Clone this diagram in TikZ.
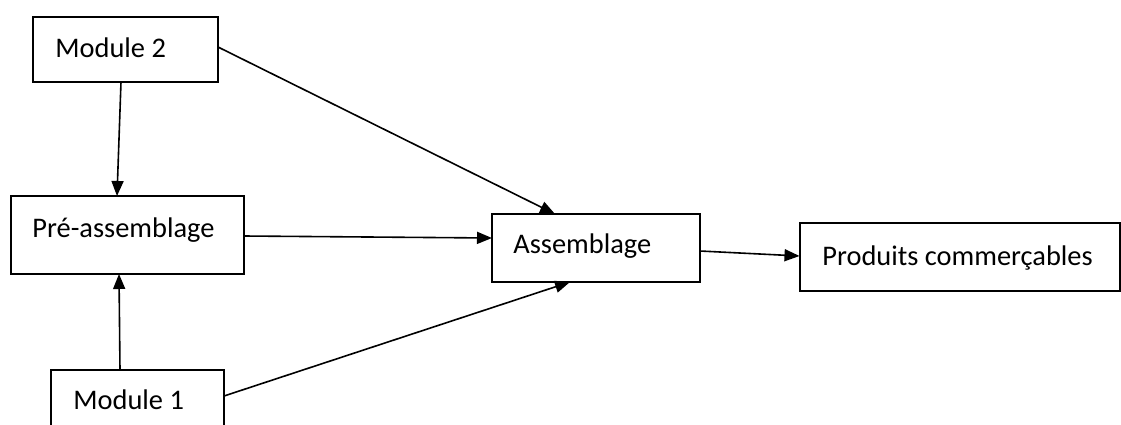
\documentclass[tikz,border=0pt]{standalone}
\usepackage{fontspec}
\setmainfont{Carlito}
\usetikzlibrary{arrows.meta,calc}
\tikzset{
  box/.style={draw=black, line width=1pt, inner sep=0pt, outer sep=0pt, fill=white},
  lbl/.style={anchor=base west, inner sep=0pt, font=\fontsize{14.2}{17}\selectfont},
  conn/.style={line width=0.8pt, -{Triangle[length=7.5pt,width=6pt]}}
}
\begin{document}
\begin{tikzpicture}[x=0.5pt,y=-0.5pt]
\fill[white] (0,0) rectangle (1121,424);
\useasboundingbox (0,0) rectangle (1121,424);
\clip (0,0) rectangle (1121,424);
% boxes
\node[box, minimum width=92.5pt, minimum height=32.5pt] (m2) at (125.5,49.5) {};
\node[box, minimum width=116.5pt, minimum height=39pt] (pre) at (127.5,235) {};
\node[box, minimum width=86.5pt, minimum height=35pt] (m1) at (137.5,405) {};
\node[box, minimum width=104pt, minimum height=34pt] (as) at (596,248) {};
\node[box, minimum width=160pt, minimum height=34pt] (pr) at (959.5,257) {};
% labels
\node[lbl] (m2t) at (55,57) {Module 2};
\node[lbl] (pret) at (32,237) {Pré-assemblage};
\node[lbl] (m1t) at (73,409) {Module 1};
\node[lbl] (ast) at (513,253) {Assemblage};
\node[lbl] (prt) at (822,265) {Produits commerçables};
% connectors
\draw[conn] ($(m2.south)+(-4.5,0)$) -- ($(pre.north)+(-10.5,0)$);
\draw[conn] ($(m1.north)+(-17.5,0)$) -- ($(pre.south)+(-8.5,0)$);
\draw[conn] ($(m2.east)+(0,-2.5)$) -- ($(as.north)+(-41,0)$);
\draw[conn] ($(m1.north east)+(0,26)$) -- ($(as.south)+(-26,0)$);
\draw[conn] ($(pre.east)+(0,1)$) -- ($(as.west)+(0,-10)$);
\draw[conn] ($(as.east)+(0,3)$) -- ($(pr.west)+(0,-1)$);
\end{tikzpicture}
\end{document}
